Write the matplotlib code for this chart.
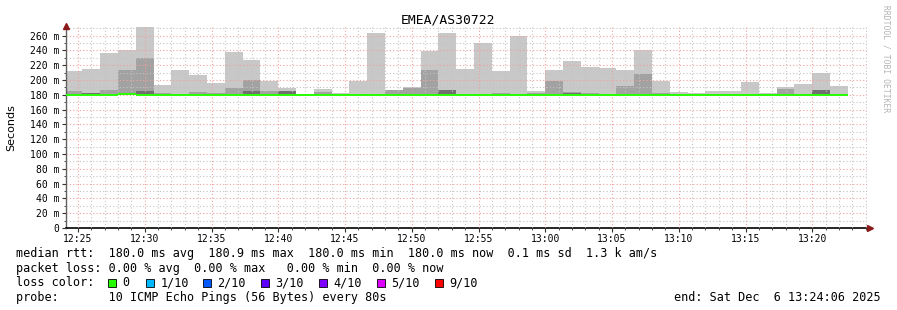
#SmokePing style latency graph for EMEA/AS30722

import numpy as np
import pandas as pd
import matplotlib
matplotlib.use("Agg")
import matplotlib.pyplot as plt
import matplotlib.dates as mdates
from matplotlib.patches import Rectangle


#-----------------------------------------------------------------------#
#Data (values in ms)
#-----------------------------------------------------------------------#

title = "EMEA/AS30722"
first_step = "2025-12-06 12:24:00"
step_s = 80
view_start = "2025-12-06 12:24:06"
view_end = "2025-12-06 13:24:06"

#top of the smoke (slowest ping) per step
smoke_max = [212, 215, 237, 241, 272, 193, 214, 207, 196, 238,
             227, 198, 189, 181, 188, 182, 198, 264, 187, 191,
             239, 263, 215, 250, 212, 260, 185, 214, 226, 218,
             216, 213, 240, 198, 184, 182, 185, 185, 197, 182,
             190, 195, 210, 192]

#inner smoke band
smoke_mid = [185, 182.5, 187, 214, 230, 182, 181, 184, 183, 189,
             200, 185, 185, 180.5, 184, 181, 181, 181, 187, 189,
             214, 186.5, 181, 181, 182, 181, 183, 199, 184, 182,
             181, 192, 208, 182, 181, 181, 181, 181, 181, 181,
             187.5, 181, 186.5, 181]

#darkest band near the median
smoke_low = [181, 182, 181, 182, 185, 180.5, 180.5, 181, 181, 181,
             185, 181, 185, 180.5, 181, 180.5, 180.5, 180.5, 181, 181,
             181, 186, 180.5, 180.5, 180.5, 180.5, 181, 181, 182, 181,
             180.5, 181, 181, 181, 180.5, 180.5, 180.5, 180.5, 180.5, 180.5,
             181, 180.5, 186, 180.5]

smoke_min = 179.6

median = [180.0, 180.0, 180.0, 180.9, 180.0, 180.0, 180.0, 180.0, 180.0, 180.0,
          180.0, 180.0, 180.0, 180.0, 180.0, 180.0, 180.0, 180.0, 180.0, 180.0,
          180.0, 180.0, 180.0, 180.0, 180.0, 180.0, 180.0, 180.0, 180.0, 180.0,
          180.0, 180.0, 180.0, 180.0, 180.0, 180.0, 180.0, 180.0, 180.0, 180.0,
          180.0, 180.0, 180.0, 180.0]

loss_labels = ["0", "1/10", "2/10", "3/10", "4/10", "5/10", "9/10"]
loss_colors = ["#26ff00", "#00b8ff", "#0059ff", "#5e00ff", "#7e00ff", "#dd00ff", "#ff0000"]

y_ticks = list(range(0, 261, 20))

#-----------------------------------------------------------------------#

W, H = 897, 310
mono = "DejaVu Sans Mono"

fig = plt.figure(figsize=(W / 100, H / 100), dpi=100)
fig.patch.set_facecolor("white")
ax = fig.add_axes([66 / W, (H - 228) / H, 801 / W, 202 / H])

starts = pd.date_range(first_step, periods=len(smoke_max), freq=f"{step_s}s")
x0 = mdates.date2num(starts)
wd = step_s / 86400.0

smoke_max = np.array(smoke_max)
smoke_mid = np.array(smoke_mid)
smoke_low = np.array(smoke_low)

ax.bar(x0, smoke_max - smoke_min, bottom=smoke_min, width=wd, align="edge",
       color="#c8c8c8", linewidth=0, zorder=1)
ax.bar(x0, smoke_mid - smoke_min, bottom=smoke_min, width=wd, align="edge",
       color="#a2a2a2", linewidth=0, zorder=1.1)
ax.bar(x0, smoke_low - smoke_min, bottom=smoke_min, width=wd, align="edge",
       color="#707070", linewidth=0, zorder=1.2)
ax.hlines(median, x0, x0 + wd, color=loss_colors[0], linewidth=1.4, zorder=4)

ax.set_xlim(mdates.datestr2num(view_start), mdates.datestr2num(view_end))
ax.set_ylim(0, 273)

ax.xaxis.set_major_locator(mdates.MinuteLocator(byminute=range(0, 60, 5)))
ax.xaxis.set_minor_locator(mdates.MinuteLocator())
ax.xaxis.set_major_formatter(mdates.DateFormatter("%H:%M"))
ax.set_yticks(y_ticks)
ax.set_yticks(range(0, 271, 10), minor=True)
ax.set_yticklabels(["0" if v == 0 else f"{v} m" for v in y_ticks])

ax.set_axisbelow(False)
ax.grid(which="minor", color="#c4c4c4", linestyle=(0, (1, 2)), linewidth=0.8, zorder=2)
ax.grid(which="major", color="#f2a0a0", linestyle=(0, (1, 2)), linewidth=0.8, zorder=2.1)

for s in ["top", "right"]:
    ax.spines[s].set_visible(False)
ax.spines["left"].set_color("#606060")
ax.spines["bottom"].set_color("black")
ax.spines["bottom"].set_linewidth(1.2)
ax.spines["left"].set_linewidth(1.0)

ax.tick_params(which="both", labelsize=7, colors="#333333", labelcolor="black")
ax.tick_params(which="major", length=3, width=0.8)
ax.tick_params(which="minor", length=1.5, width=0.6)
ax.tick_params(axis="x", pad=1)
ax.tick_params(axis="y", pad=2)
for lab in ax.get_xticklabels() + ax.get_yticklabels():
    lab.set_family(mono)

#arrows at the axis ends
ax.plot([0], [1.0], marker="^", markersize=5, color="#8b1a1a", transform=ax.transAxes, clip_on=False, zorder=5)
ax.plot([1.004], [0], marker=">", markersize=5, color="#8b1a1a", transform=ax.transAxes, clip_on=False, zorder=5)

fig.text(448 / W, 1 - 20 / H, title, family=mono, fontsize=9.4, ha="center", va="center")
fig.text(11 / W, 1 - 128 / H, "Seconds", rotation=90, fontsize=8, ha="center", va="center")
fig.text(886 / W, 1 - 5 / H, "RRDTOOL / TOBI OETIKER", rotation=270, family=mono,
         fontsize=5.8, color="#b4b4b4", ha="center", va="top")

fs = 8.5
fig.text(16 / W, 1 - 254 / H,
         "median rtt:  180.0 ms avg  180.9 ms max  180.0 ms min  180.0 ms now  0.1 ms sd  1.3 k am/s",
         family=mono, fontsize=fs, va="center")
fig.text(16 / W, 1 - 268.5 / H,
         "packet loss: 0.00 % avg  0.00 % max   0.00 % min  0.00 % now",
         family=mono, fontsize=fs, va="center")
fig.text(16 / W, 1 - 283 / H, "loss color:", family=mono, fontsize=fs, va="center")
sq_x = [108, 146, 203, 261, 319, 377, 435]
for sx, lab, col in zip(sq_x, loss_labels, loss_colors):
    fig.patches.append(Rectangle((sx / W, 1 - 286.5 / H), 8 / W, 8 / H, transform=fig.transFigure,
                                 facecolor=col, edgecolor="black", linewidth=0.6))
    fig.text((sx + 14.5) / W, 1 - 283 / H, lab, family=mono, fontsize=fs, va="center")
fig.text(16 / W, 1 - 297.5 / H, "probe:       10 ICMP Echo Pings (56 Bytes) every 80s",
         family=mono, fontsize=fs, va="center")
fig.text(881 / W, 1 - 297.5 / H, "end: Sat Dec  6 13:24:06 2025",
         family=mono, fontsize=fs, va="center", ha="right")

fig.savefig("out.png", dpi=100)
